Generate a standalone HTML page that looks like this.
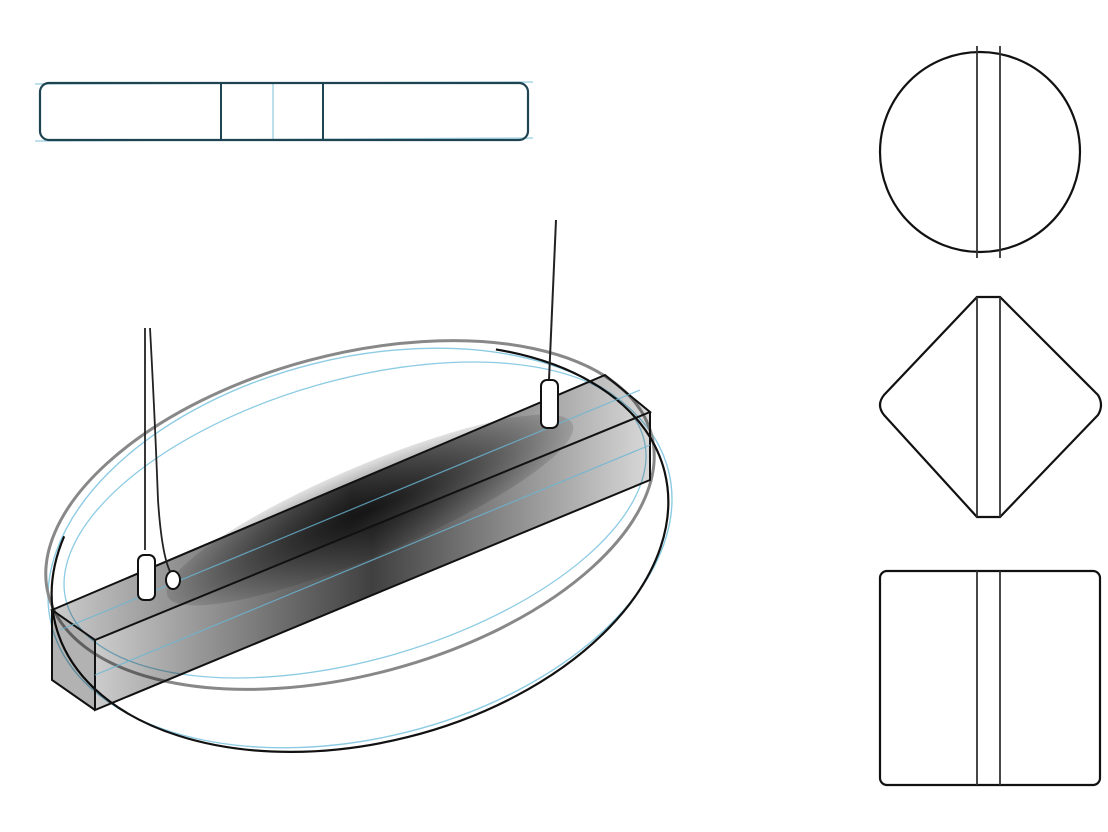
<!DOCTYPE html>
<html><head><meta charset="utf-8"><style>html,body{margin:0;padding:0;background:#fff}svg{display:block}</style></head>
<body>
<svg width="1108" height="832" viewBox="0 0 1108 832" xmlns="http://www.w3.org/2000/svg">
<defs>
<linearGradient id="g" x1="0" y1="0" x2="1" y2="0">
<stop offset="0" stop-color="#000" stop-opacity="0.2"/>
<stop offset="0.5" stop-color="#000" stop-opacity="0.75"/>
<stop offset="1" stop-color="#000" stop-opacity="0.15"/>
</linearGradient>
<radialGradient id="r" cx="0.5" cy="0.5" r="0.6">
<stop offset="0" stop-color="#000" stop-opacity="0.7"/>
<stop offset="1" stop-color="#000" stop-opacity="0"/>
</radialGradient>
</defs>
<line x1="35" y1="84" x2="533" y2="82" stroke="#a8d4e6" stroke-width="1.5"/>
<line x1="35" y1="141" x2="533" y2="138" stroke="#a8d4e6" stroke-width="1.5"/>
<line x1="273" y1="82" x2="273" y2="140" stroke="#a8d4e6" stroke-width="1.5"/>
<rect x="40" y="83" width="488" height="57" rx="9" fill="none" stroke="#1e4452" stroke-width="2.2"/>
<line x1="221" y1="84" x2="221" y2="139" stroke="#1e4452" stroke-width="2"/>
<line x1="323" y1="84" x2="323" y2="139" stroke="#1e4452" stroke-width="2"/>
<circle cx="980" cy="152" r="100" fill="none" stroke="#111" stroke-width="2.2"/>
<line x1="977" y1="46" x2="977" y2="258" stroke="#333" stroke-width="1.8"/>
<line x1="1000" y1="46" x2="1000" y2="258" stroke="#333" stroke-width="1.8"/>
<path d="M977 297 L1000 297 L1098 395 Q1104 405 1098 415 L1000 517 L977 517 L884 415 Q876 405 884 395 Z" fill="none" stroke="#111" stroke-width="2.2"/>
<line x1="977" y1="297" x2="977" y2="517" stroke="#333" stroke-width="1.8"/>
<line x1="1000" y1="297" x2="1000" y2="517" stroke="#333" stroke-width="1.8"/>
<rect x="880" y="571" width="220" height="214" rx="7" fill="none" stroke="#111" stroke-width="2.2"/>
<line x1="977" y1="571" x2="977" y2="785" stroke="#333" stroke-width="1.8"/>
<line x1="1000" y1="571" x2="1000" y2="785" stroke="#333" stroke-width="1.8"/>
<ellipse cx="355" cy="520" rx="300" ry="140" transform="rotate(-16 355 520)" fill="none" stroke="#8ccbe3" stroke-width="1.3"/>
<ellipse cx="360" cy="548" rx="318" ry="190" transform="rotate(-14 360 548)" fill="none" stroke="#8ccbe3" stroke-width="1.4"/>
<ellipse cx="350" cy="515" rx="312" ry="160" transform="rotate(-15 350 515)" fill="none" stroke="#888" stroke-width="3"/>
<ellipse cx="360" cy="548" rx="314" ry="195" transform="rotate(-14 360 548)" fill="none" stroke="#111" stroke-width="2.2" stroke-dasharray="1150 500" stroke-dashoffset="250"/>
<polygon points="52,610 605,375 650,412 95,640" fill="url(#g)"/>
<polygon points="95,640 650,412 650,480 95,710" fill="url(#g)"/>
<polygon points="52,610 95,640 95,710 52,680" fill="#000" opacity="0.3"/>
<ellipse cx="370" cy="510" rx="220" ry="45" transform="rotate(-23 370 510)" fill="url(#r)"/>
<g fill="none" stroke="#111" stroke-width="2">
<polygon points="52,610 605,375 650,412 95,640"/>
<polyline points="95,640 95,710 650,480 650,412"/>
<polyline points="52,610 52,680 95,710"/>
</g>
<g stroke="#6ab6d4" stroke-width="1.2" opacity="0.8">
<line x1="60" y1="630" x2="640" y2="390"/>
<line x1="95" y1="675" x2="650" y2="445"/>
</g>
<path d="M145 328 L145 550 M150 328 Q155 420 158 500 Q162 560 172 575" fill="none" stroke="#222" stroke-width="1.8"/>
<rect x="138" y="555" width="17" height="45" rx="6" fill="#fff" stroke="#111" stroke-width="2"/>
<ellipse cx="173" cy="580" rx="7" ry="9" fill="#fff" stroke="#111" stroke-width="2"/>
<line x1="556" y1="220" x2="549" y2="380" stroke="#222" stroke-width="2"/>
<rect x="541" y="380" width="17" height="48" rx="6" fill="#fff" stroke="#111" stroke-width="2"/>
</svg>
</body></html>
